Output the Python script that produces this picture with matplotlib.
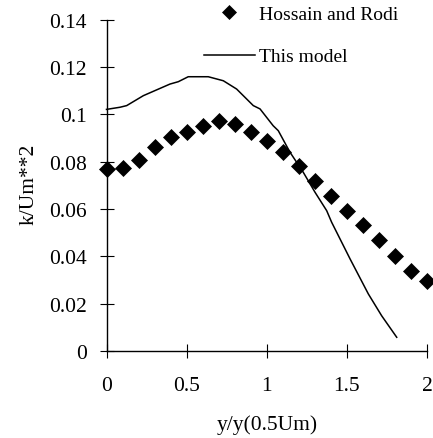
import matplotlib
matplotlib.use("Agg")
import matplotlib.pyplot as plt
from matplotlib.lines import Line2D

# Data
exp_x = [0.0, 0.1, 0.2, 0.3, 0.4, 0.5, 0.6, 0.7, 0.8, 0.9, 1.0,
         1.1, 1.2, 1.3, 1.4, 1.5, 1.6, 1.7, 1.8, 1.9, 2.0]
exp_k = [0.0769, 0.0773, 0.0807, 0.0861, 0.0906, 0.0927, 0.0951, 0.0973, 0.0959, 0.0927, 0.0889,
         0.0841, 0.0781, 0.0720, 0.0655, 0.0593, 0.0533, 0.0470, 0.0403, 0.0339, 0.0294]

model_x = [0.0, 0.084, 0.126, 0.23, 0.396, 0.448, 0.51, 0.635, 0.729, 0.812, 0.916,
           0.958, 1.04, 1.072, 1.145, 1.228, 1.301, 1.374, 1.405, 1.52, 1.634, 1.717, 1.811]
model_k = [0.1021, 0.1030, 0.1037, 0.1079, 0.1128, 0.1138, 0.1159, 0.1159, 0.1142, 0.1107, 0.1037,
           0.1023, 0.0952, 0.0931, 0.0840, 0.0755, 0.0671, 0.0593, 0.0544, 0.0389, 0.0241, 0.0149, 0.0058]

xticks = [0, 0.5, 1, 1.5, 2]
xticklabels = ["0", "0.5", "1", "1.5", "2"]
yticks = [0, 0.02, 0.04, 0.06, 0.08, 0.1, 0.12, 0.14]
yticklabels = ["0", "0.02", "0.04", "0.06", "0.08", "0.1", "0.12", "0.14"]

plt.rcParams['font.family'] = ['Liberation Serif', 'DejaVu Serif']

W, H = 433, 439
fig = plt.figure(figsize=(W / 100, H / 100), dpi=100)
ax = fig.add_axes([106.5 / W, 1 - 352 / H, (427 - 106.5) / W, (352 - 20.7) / H])

ax.plot(model_x, model_k, color='black', lw=1.1, label='This model', clip_on=False)
ax.plot(exp_x, exp_k, linestyle='none', marker='D', ms=8.2, mew=0.5, color='black',
        label='Hossain and Rodi', clip_on=False, zorder=3)

ax.set_xlim(0, 2)
ax.set_ylim(0, 0.14)
ax.set_xticks(xticks)
ax.set_xticklabels(xticklabels)
ax.set_yticks(yticks)
ax.set_yticklabels(yticklabels)

for s in ['top', 'right']:
    ax.spines[s].set_visible(False)
for s in ['left', 'bottom']:
    ax.spines[s].set_linewidth(1.0)
    ax.spines[s].set_color('black')

ax.tick_params(axis='x', direction='inout', length=10, width=0.8, pad=13,
               labelsize=15.5, colors='black')
ax.tick_params(axis='y', direction='inout', length=10, width=0.8, pad=9,
               labelsize=15.5, colors='black')

fig.text(267 / W, 1 - 425 / H, 'y/y(0.5Um)', ha='center', va='center', fontsize=15.5)
fig.text(29 / W, 1 - 184 / H, 'k/Um**2', ha='center', va='center', rotation=90, fontsize=15.5)

handles = [Line2D([], [], linestyle='none', marker='D', ms=7.6, mew=0.5, color='black'),
           Line2D([], [], color='black', lw=1.1)]
ax.legend(handles, ['Hossain and Rodi', 'This model'], loc='upper left',
          bbox_to_anchor=(204 / W, 1 - 6 / H), bbox_transform=fig.transFigure,
          frameon=False, fontsize=14, handlelength=2.6, handletextpad=0.25,
          borderpad=0, borderaxespad=0, labelspacing=1.3)

fig.savefig('out.png', dpi=100)
